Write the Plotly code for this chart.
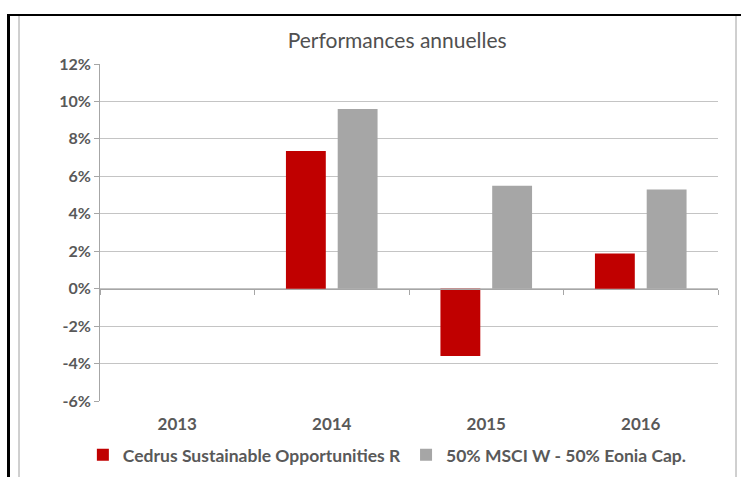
import plotly.graph_objects as go

years = ["2013", "2014", "2015", "2016"]
fund = [None, 7.35, -3.6, 1.88]
bench = [None, 9.6, 5.5, 5.3]
fund_name = "Cedrus Sustainable Opportunities R"
bench_name = "50% MSCI W - 50% Eonia Cap."
y_ticks = [-6, -4, -2, 0, 2, 4, 6, 8, 10, 12]
y_min, y_max = -6, 12

FONT = "Lato"
TXT = "#595959"

fig = go.Figure()
fig.add_trace(go.Bar(x=years, y=fund, name=fund_name, marker=dict(color="#C00000", line=dict(width=0))))
fig.add_trace(go.Bar(x=years, y=bench, name=bench_name, marker=dict(color="#A6A6A6", line=dict(width=0))))
# axis at zero with boundary ticks
fig.add_trace(go.Scatter(x=years, y=[None]*4, xaxis="x2", showlegend=False, hoverinfo="skip"))

zero_pos = (0 - y_min) / (y_max - y_min)

fig.update_layout(
    width=741, height=477,
    margin=dict(l=100, r=23, t=64, b=76, autoexpand=False),
    paper_bgcolor="white", plot_bgcolor="white",
    barmode="group", bargap=0.33, bargroupgap=0.23,
    title=dict(text="Performances annuelles", x=0.536, xanchor="center", y=1-41/477, yanchor="middle",
               font=dict(family=FONT, size=21, color="#505050")),
    xaxis=dict(type="category", showgrid=False, showline=False, ticks="outside", ticklen=8,
               tickcolor="rgba(0,0,0,0)", automargin=False,
               tickfont=dict(family=FONT, size=17, color=TXT, weight="bold")),
    xaxis2=dict(type="category", overlaying="x", anchor="free", position=zero_pos, side="bottom",
                matches="x", showgrid=False, showline=True, linecolor="#A6A6A6", linewidth=1,
                ticks="outside", tickson="boundaries", ticklen=5, tickcolor="#A6A6A6",
                showticklabels=False, automargin=False),
    yaxis=dict(range=[y_min, y_max], tickvals=y_ticks, ticktext=[f"{v}%" for v in y_ticks],
               showgrid=True, gridcolor="#C4C4C4", gridwidth=1, zeroline=False, automargin=False,
               showline=True, linecolor="#A6A6A6", ticks="outside", ticklen=5, tickcolor="#A6A6A6",
               tickfont=dict(family=FONT, size=16, color=TXT, weight="bold")),
    legend=dict(orientation="h", x=0.465, xanchor="center", y=-0.16, yanchor="middle",
                font=dict(family=FONT, size=17.5, color=TXT, weight="bold"), itemwidth=30,
                tracegroupgap=0),
    showlegend=True,
)

W, H = 618, 337
def px(p):
    return (p - 100) / W
def py(p):
    return (401 - p) / H

shapes = [
    dict(type="line", xref="paper", yref="paper", x0=px(7), x1=px(745), y0=py(15), y1=py(15),
         line=dict(color="black", width=2)),
    dict(type="line", xref="paper", yref="paper", x0=px(8.5), x1=px(8.5), y0=py(14), y1=py(490),
         line=dict(color="black", width=3)),
    dict(type="line", xref="paper", yref="paper", x0=px(19), x1=px(19), y0=py(16), y1=py(490),
         line=dict(color="#A0A0A0", width=1)),
    dict(type="line", xref="paper", yref="paper", x0=px(736), x1=px(736), y0=py(16), y1=py(490),
         line=dict(color="#A0A0A0", width=1)),
]
fig.update_layout(shapes=shapes)

fig.write_html("out.html", config={"displayModeBar": False},
               post_script="document.body.style.margin='0';document.body.style.padding='0';")
